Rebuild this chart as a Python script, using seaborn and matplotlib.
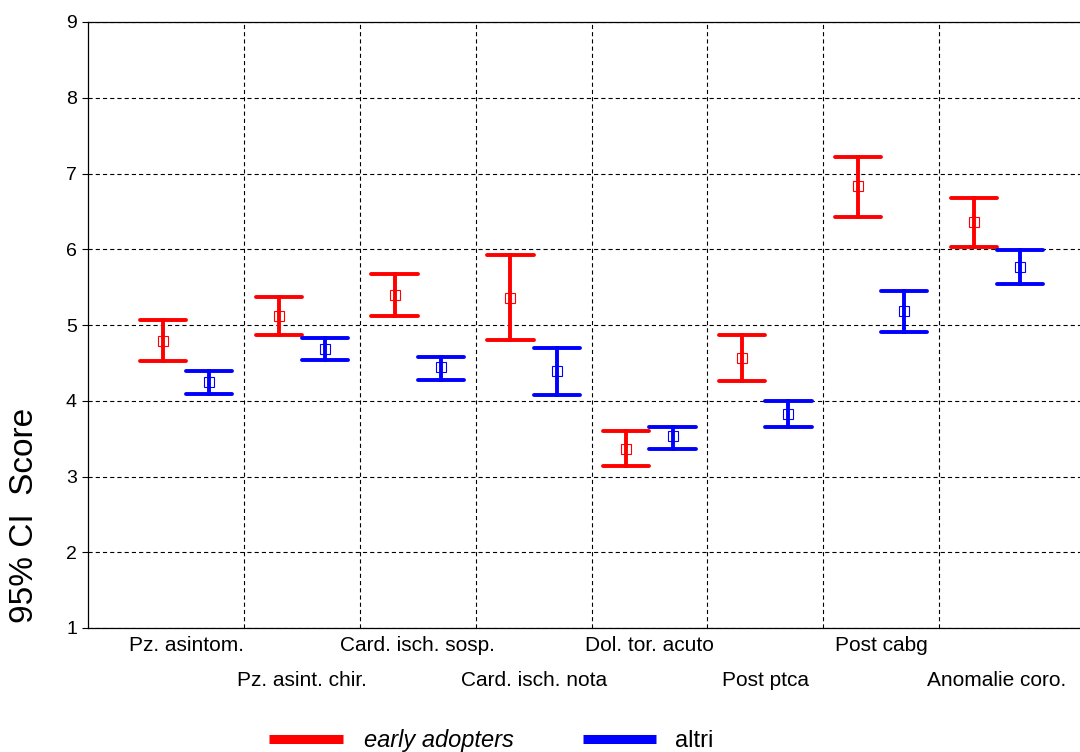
import numpy as np
import pandas as pd
import matplotlib
matplotlib.use("Agg")
import matplotlib.pyplot as plt
import seaborn as sns
from matplotlib.lines import Line2D

# ---- data ----
categories = ["Pz. asintom.", "Pz. asint. chir.", "Card. isch. sosp.", "Card. isch. nota",
              "Dol. tor. acuto", "Post ptca", "Post cabg", "Anomalie coro."]
groups = ["early adopters", "altri"]

ea_mean = [4.79, 5.12, 5.39, 5.36, 3.36, 4.56, 6.83, 6.36]
ea_lo   = [4.52, 4.87, 5.12, 4.80, 3.14, 4.26, 6.43, 6.03]
ea_hi   = [5.07, 5.37, 5.67, 5.92, 3.60, 4.87, 7.22, 6.67]

al_mean = [4.25, 4.68, 4.44, 4.39, 3.53, 3.83, 5.18, 5.77]
al_lo   = [4.09, 4.54, 4.28, 4.08, 3.36, 3.65, 4.91, 5.54]
al_hi   = [4.39, 4.83, 4.58, 4.69, 3.65, 4.00, 5.45, 5.99]

y_ticks = [1, 2, 3, 4, 5, 6, 7, 8, 9]

colors = {"early adopters": "#FF0000", "altri": "#0000FF"}

# long table: lower bound, centre, upper bound per group/category
rows = []
for g, lo, mid, hi in [(groups[0], ea_lo, ea_mean, ea_hi), (groups[1], al_lo, al_mean, al_hi)]:
    for c, l, m, h in zip(categories, lo, mid, hi):
        for v in (l, m, h):
            rows.append({"cat": c, "group": g, "score": v})
df = pd.DataFrame(rows)

sns.set_theme(style="ticks")
plt.rcParams["font.family"] = ["Liberation Sans", "DejaVu Sans"]
plt.rcParams["lines.scale_dashes"] = False
plt.rcParams["text.color"] = "black"
plt.rcParams["axes.labelcolor"] = "black"

W, H = 1080, 752
fig = plt.figure(figsize=(W / 100, H / 100), dpi=100)
ax = fig.add_axes([88 / W, 1 - 628 / H, (W - 88) / W, (628 - 22) / H])

sns.pointplot(data=df, x="cat", y="score", hue="group", order=categories, hue_order=groups,
              palette=colors, estimator="median", errorbar=lambda v: (v.min(), v.max()),
              dodge=0.4, capsize=0.4, linestyles="none", markers="s",
              markersize=7.5, markeredgewidth=0.8, markerfacecolor="none",
              err_kws={"linewidth": 2.8, "linestyle": "-"}, legend=False, ax=ax)

ax.set_xlim(-0.847, 7.717)
ax.set_ylim(1, 9)
ax.set_yticks(y_ticks)
ax.set_xlabel("")
ax.set_ylabel("")

dash = (0, (3, 2.2))
ax.set_axisbelow(True)
ax.yaxis.grid(True, color="black", linestyle=dash, linewidth=0.8)
ax.xaxis.grid(False)
for i in range(len(categories) - 1):
    ax.axvline(i + 0.5, color="black", linestyle=dash, linewidth=0.8, zorder=0.5)

# alternating two-row category labels
ax.set_xticks(range(0, 8, 2), categories[0::2])
ax.set_xticks(range(1, 8, 2), categories[1::2], minor=True)
ax.tick_params(axis="x", which="major", length=0, pad=6, labelsize=15, colors="black")
ax.tick_params(axis="x", which="minor", length=0, pad=31, labelsize=15, colors="black")
ax.tick_params(axis="y", length=4, width=0.8, pad=4, labelsize=14, colors="black")

for s in ["top", "left", "bottom"]:
    ax.spines[s].set_color("black")
    ax.spines[s].set_linewidth(0.9)
ax.spines["right"].set_visible(False)

fig.text(25 / W, 1 - 515 / H, "95% CI  Score", rotation=90, ha="center", va="center",
         fontsize=24, color="black")

# legend at the bottom
ly = 1 - 738.5 / H
fig.add_artist(Line2D([269 / W, 343 / W], [ly, ly], color=colors["early adopters"], linewidth=6.5,
                      solid_capstyle="butt"))
fig.text(364 / W, 1 - 747 / H, "early adopters", style="italic", ha="left", va="baseline",
         fontsize=17, color="black")
fig.add_artist(Line2D([583 / W, 656 / W], [ly, ly], color=colors["altri"], linewidth=6.5,
                      solid_capstyle="butt"))
fig.text(675 / W, 1 - 747 / H, "altri", ha="left", va="baseline", fontsize=17, color="black")

fig.savefig("out.png", dpi=100)
